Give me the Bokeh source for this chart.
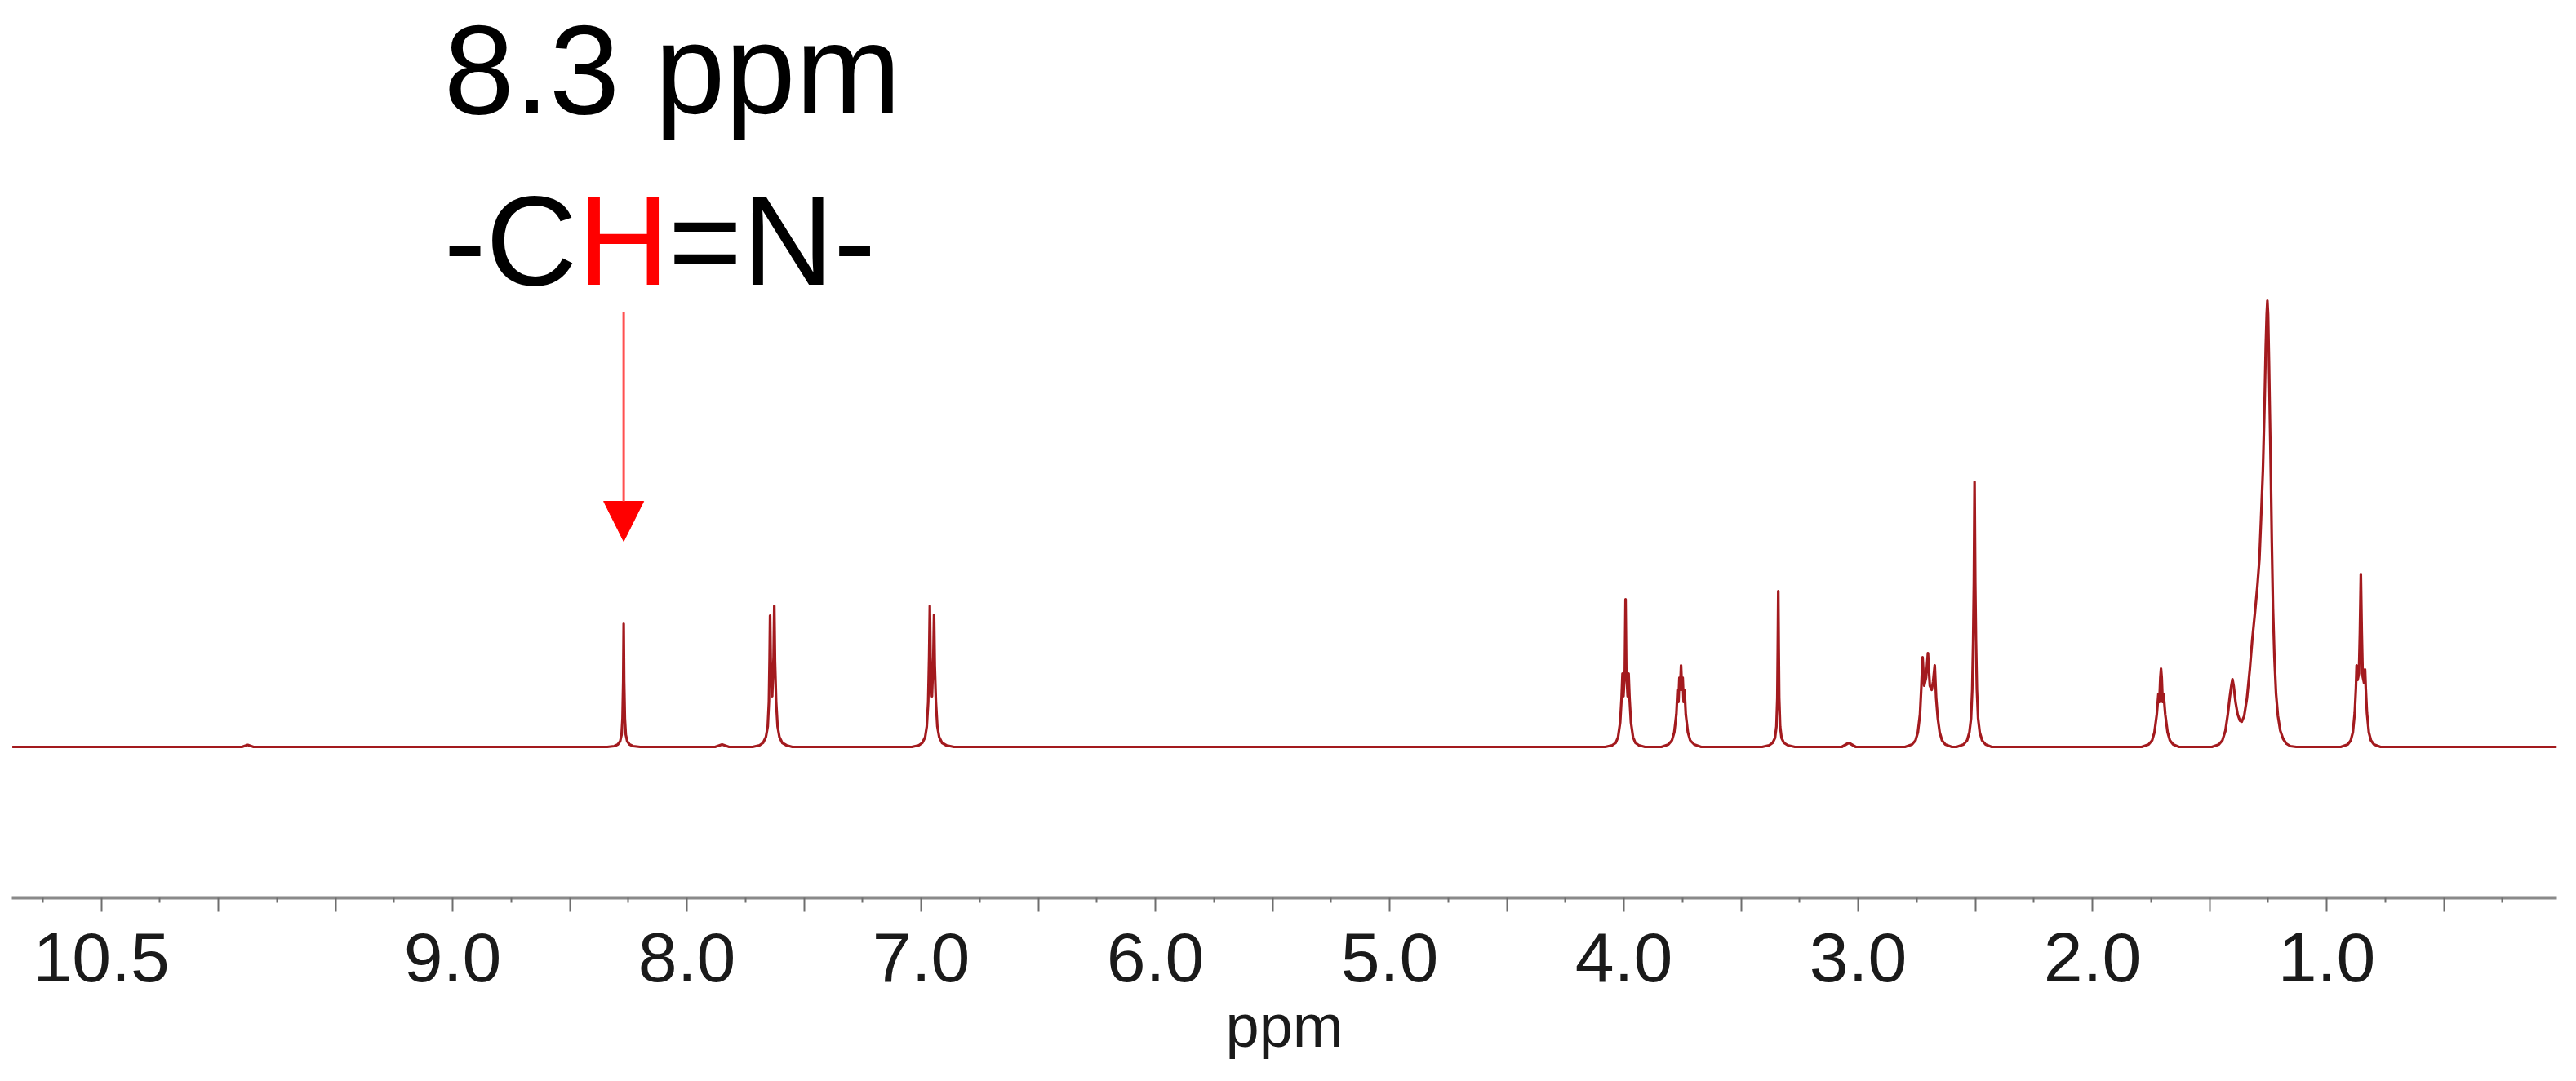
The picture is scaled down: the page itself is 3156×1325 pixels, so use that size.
from bokeh.plotting import figure
from bokeh.models import Range1d, FixedTicker, Label, Arrow, NormalHead, ColumnDataSource
from bokeh.embed import file_html
from bokeh.resources import INLINE

# ---- data: chemical shift (ppm) and intensity (a.u.) of the trace vertices ----
ppm = [
    10.88,
    9.90, 9.875, 9.85,
    8.34, 8.31, 8.295, 8.285, 8.279, 8.275, 8.272, 8.270, 8.268, 8.265, 8.261, 8.255, 8.245, 8.23, 8.20,
    7.88, 7.85, 7.82,
    7.72, 7.69, 7.675, 7.663, 7.655, 7.650, 7.647, 7.645, 7.642, 7.636, 7.630, 7.627, 7.624, 7.619, 7.613, 7.605, 7.593, 7.575, 7.55,
    7.04, 7.01, 6.995, 6.983, 6.976, 6.970, 6.966, 6.963, 6.960, 6.954, 6.948, 6.945, 6.942, 6.937, 6.931, 6.923, 6.911, 6.893, 6.86,
    4.08, 4.05, 4.035, 4.025, 4.016, 4.010, 4.006, 4.002, 3.996, 3.993, 3.990, 3.984, 3.980, 3.976, 3.970, 3.961, 3.951, 3.936, 3.91,
    3.84, 3.81, 3.795, 3.785, 3.776, 3.771, 3.767, 3.763, 3.760, 3.756, 3.752, 3.749, 3.745, 3.741, 3.736, 3.727, 3.717, 3.70, 3.67,
    3.41, 3.38, 3.365, 3.355, 3.349, 3.345, 3.343, 3.341, 3.339, 3.337, 3.333, 3.327, 3.317, 3.30, 3.27,
    3.07, 3.04, 3.01,
    2.80, 2.77, 2.755, 2.745, 2.736, 2.730, 2.725, 2.718, 2.710, 2.702, 2.694, 2.686, 2.680, 2.673, 2.667, 2.660, 2.652, 2.642, 2.628, 2.60,
    2.58, 2.55, 2.535, 2.525, 2.518, 2.513, 2.509, 2.506, 2.503, 2.500, 2.497, 2.493, 2.488, 2.481, 2.471, 2.456, 2.43,
    1.79, 1.76, 1.745, 1.735, 1.725, 1.718, 1.714, 1.710, 1.707, 1.704, 1.700, 1.696, 1.689, 1.679, 1.669, 1.655, 1.63,
    1.49, 1.46, 1.445, 1.432, 1.422, 1.414, 1.407, 1.402, 1.397, 1.389, 1.380, 1.370, 1.362, 1.352, 1.340, 1.328, 1.318,
    1.306, 1.296, 1.287, 1.280, 1.272, 1.265, 1.260, 1.256, 1.253, 1.250, 1.246, 1.242, 1.238, 1.234, 1.229, 1.223, 1.216,
    1.208, 1.198, 1.186, 1.172, 1.155, 1.13,
    0.94, 0.91, 0.897, 0.888, 0.880, 0.875, 0.872, 0.868, 0.862, 0.858, 0.854, 0.850, 0.846, 0.840, 0.836, 0.833, 0.828, 0.820, 0.811, 0.798, 0.77,
    0.0174,
]
intensity = [
    0,
    0, 2.5, 0,
    0, 1, 3, 7, 15, 35, 80, 151, 80, 35, 15, 7, 3, 1, 0,
    0, 3, 0,
    0, 2, 5, 12, 25, 55, 110, 161, 100, 62, 110, 173, 105, 55, 25, 12, 5, 2, 0,
    0, 2, 5, 12, 25, 55, 110, 173, 105, 62, 110, 162, 100, 55, 25, 12, 5, 2, 0,
    0, 2, 5, 12, 30, 60, 90, 62, 95, 181, 95, 62, 90, 60, 30, 12, 5, 2, 0,
    0, 3, 8, 18, 40, 70, 55, 85, 70, 100, 70, 85, 55, 70, 40, 18, 8, 3, 0,
    0, 2, 5, 11, 25, 60, 120, 191, 120, 60, 25, 11, 5, 2, 0,
    0, 5, 0,
    0, 3, 8, 18, 40, 75, 110, 75, 85, 115, 75, 70, 80, 100, 60, 35, 18, 8, 3, 0,
    0, 3, 8, 18, 35, 70, 130, 200, 325, 200, 130, 70, 35, 18, 8, 3, 0,
    0, 3, 8, 18, 40, 65, 55, 85, 96, 85, 55, 65, 40, 18, 8, 3, 0,
    0, 3, 8, 20, 40, 60, 75, 83, 75, 55, 40, 32, 31, 38, 60, 95, 130,
    165, 196, 230, 280, 340, 420, 490, 530, 547, 530, 470, 400, 330, 250, 170, 110, 65,
    38, 20, 10, 4, 1, 0,
    0, 3, 8, 18, 42, 72, 100, 82, 90, 140, 212, 140, 86, 78, 95, 72, 42, 18, 8, 3, 0,
    0,
]

major_ticks = [0.5, 1.0, 1.5, 2.0, 2.5, 3.0, 3.5, 4.0, 4.5, 5.0, 5.5, 6.0, 6.5, 7.0, 7.5, 8.0, 8.5, 9.0, 9.5, 10.0, 10.5]
minor_ticks = [0.25, 0.75, 1.25, 1.75, 2.25, 2.75, 3.25, 3.75, 4.25, 4.75, 5.25, 5.75, 6.25, 6.75,
               7.25, 7.75, 8.25, 8.75, 9.25, 9.75, 10.25, 10.75]
labelled_ticks = [10.5, 9.0, 8.0, 7.0, 6.0, 5.0, 4.0, 3.0, 2.0, 1.0]

annotation_shift = 8.27      # ppm of the imine proton peak
annotation_title = "8.3 ppm"
group_parts = ["-C", "H", "=N-"]
x_range_ppm = (10.882, 0.0174)
y_range_int = (-185, 913)

FONT = "Liberation Sans"
TXT = 155

p = figure(frame_width=3118, frame_height=1098,
           x_range=Range1d(*x_range_ppm), y_range=Range1d(*y_range_int),
           output_backend="svg", toolbar_location=None, y_axis_location=None,
           min_border_left=14, min_border_right=8, min_border_top=2, min_border_bottom=0)
p.grid.visible = False
p.outline_line_color = None
p.background_fill_color = "white"
p.border_fill_color = "white"

src = ColumnDataSource(data=dict(ppm=ppm, intensity=intensity))
p.line("ppm", "intensity", source=src, line_color="#A31A1E", line_width=3.2, line_join="round")

# x axis styling
ax = p.xaxis[0]
ax.ticker = FixedTicker(ticks=major_ticks, minor_ticks=minor_ticks)
ax.major_label_overrides = {t: ("%.1f" % t if t in labelled_ticks else "") for t in major_ticks}
ax.axis_line_color = "#8a8a8a"
ax.axis_line_width = 4
ax.major_tick_line_color = "#6e6e6e"
ax.major_tick_line_width = 2
ax.major_tick_out = 17
ax.major_tick_in = 0
ax.minor_tick_line_color = "#6e6e6e"
ax.minor_tick_line_width = 2
ax.minor_tick_out = 6
ax.minor_tick_in = 0
ax.major_label_text_font = FONT
ax.major_label_text_font_size = "86px"
ax.major_label_text_color = "#1a1a1a"
ax.major_label_standoff = 26
ax.axis_label = "ppm"
ax.axis_label_text_font = FONT
ax.axis_label_text_font_style = "normal"
ax.axis_label_text_font_size = "74px"
ax.axis_label_text_color = "#1a1a1a"
ax.axis_label_standoff = 10

# annotation text
text_x = 9.038
p.add_layout(Label(x=text_x, y=830, text=annotation_title, text_font=FONT,
                   text_font_size=f"{TXT}px", text_color="black", text_baseline="alphabetic"))
offsets = [0, round(1.055 * TXT), round((1.055 + 0.722) * TXT)]
colors = ["black", "#FF0000", "black"]
for part, off, col in zip(group_parts, offsets, colors):
    p.add_layout(Label(x=text_x, y=620, x_offset=off, text=part, text_font=FONT,
                       text_font_size=f"{TXT}px", text_color=col, text_baseline="alphabetic"))

# arrow pointing to the imine peak
p.add_layout(Arrow(end=NormalHead(size=49, fill_color="#FF0000", line_color="#FF0000", line_width=1),
                   x_start=annotation_shift, y_start=533, x_end=annotation_shift, y_end=252,
                   line_color="#FF5050", line_width=3))

open("out.html", "w").write(file_html(p, INLINE))
